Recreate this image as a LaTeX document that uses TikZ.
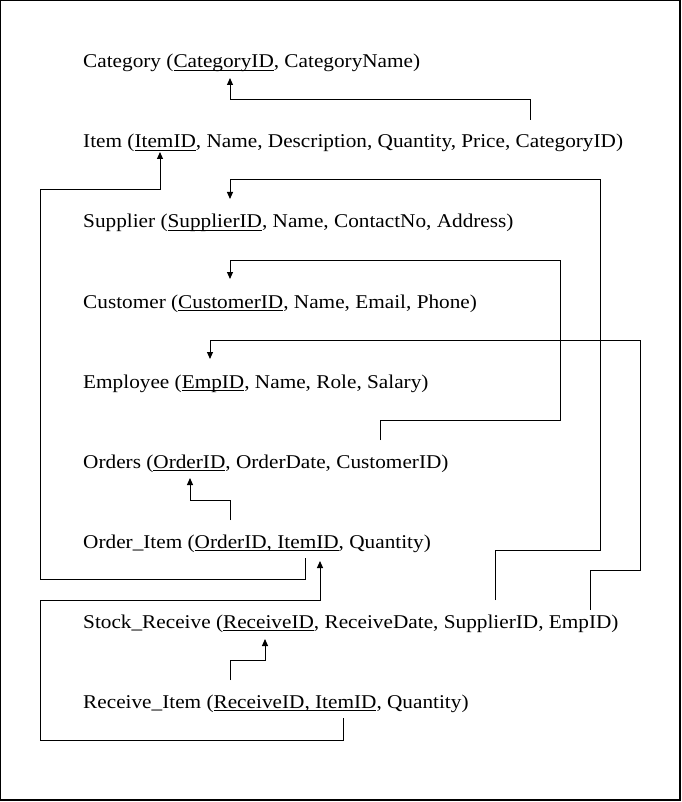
\documentclass[tikz,border=0pt]{standalone}
\usepackage{fontspec}
\setmainfont[FakeStretch=1.09]{Liberation Serif}
\usetikzlibrary{arrows.meta}
\newlength\ulw
\newcommand\ulx[1]{\settowidth\ulw{#1}\rlap{\rule[-3.2pt]{\ulw}{0.9pt}}#1}
\tikzset{
  rel/.style={anchor=base west, inner sep=0pt, font=\fontsize{19.5pt}{22pt}\selectfont},
  fk/.style={draw=black, line width=1pt},
  fka/.style={fk, -{Stealth[length=7pt, width=6pt, inset=0pt]}},
}
\begin{document}
\begin{tikzpicture}[x=1pt, y=-1pt]
\useasboundingbox (0,0) rectangle (681,802);
\draw[line width=1.4pt] (0.7,0.7) rectangle (680,800);

\node[rel] (cat)  at (83,68)  {Category (\ulx{CategoryID}, CategoryName)};
\node[rel] (item) at (83,148) {Item (\ulx{ItemID}, Name, Description, Quantity, Price, CategoryID)};
\node[rel] (sup)  at (83,228) {Supplier (\ulx{SupplierID}, Name, ContactNo, Address)};
\node[rel] (cust) at (83,308) {Customer (\ulx{CustomerID}, Name, Email, Phone)};
\node[rel] (emp)  at (83,388) {Employee (\ulx{EmpID}, Name, Role, Salary)};
\node[rel] (ord)  at (83,468) {Orders (\ulx{OrderID}, OrderDate, CustomerID)};
\node[rel] (oi)   at (83,548) {Order\_Item (\ulx{OrderID, ItemID}, Quantity)};
\node[rel] (sr)   at (83,628) {Stock\_Receive (\ulx{ReceiveID}, ReceiveDate, SupplierID, EmpID)};
\node[rel] (ri)   at (83,708) {Receive\_Item (\ulx{ReceiveID, ItemID}, Quantity)};

% attachment points
\coordinate (catPK)  at (230,78);
\coordinate (itemFK) at (530,120);
\coordinate (itemPK) at (160,152);
\coordinate (supPK)  at (230,199);
\coordinate (custPK) at (230,279);
\coordinate (empPK)  at (210,359);
\coordinate (ordFK)  at (380,440);
\coordinate (ordPK)  at (190,478);
\coordinate (oiOrd)  at (230,520);
\coordinate (oiItem) at (305,558);
\coordinate (oiPK)   at (320,561);
\coordinate (srSup)  at (495,600);
\coordinate (srEmp)  at (590,610);
\coordinate (srPK)   at (265,639);
\coordinate (riRec)  at (230,680);
\coordinate (riItem) at (343,718);

% Item.CategoryID -> Category
\draw[fka] (itemFK) |- (230,100) -- (catPK);
% Order_Item.ItemID -> Item
\draw[fka] (oiItem) -- (305,579) -| (40,190) -| (itemPK);
% Stock_Receive.SupplierID -> Supplier
\draw[fka] (srSup) |- (600,550) |- (230,180) -- (supPK);
% Orders.CustomerID -> Customer
\draw[fka] (ordFK) |- (560,420) |- (230,260) -- (custPK);
% Stock_Receive.EmpID -> Employee
\draw[fka] (srEmp) |- (640,570) |- (210,340) -- (empPK);
% Order_Item.OrderID -> Orders
\draw[fka] (oiOrd) |- (190,500) -- (ordPK);
% Receive_Item.ItemID -> Order_Item
\draw[fka] (riItem) -- (343,740) -| (40,600) -| (oiPK);
% Receive_Item.ReceiveID -> Stock_Receive
\draw[fka] (riRec) |- (265,660) -- (srPK);
\end{tikzpicture}
\end{document}
